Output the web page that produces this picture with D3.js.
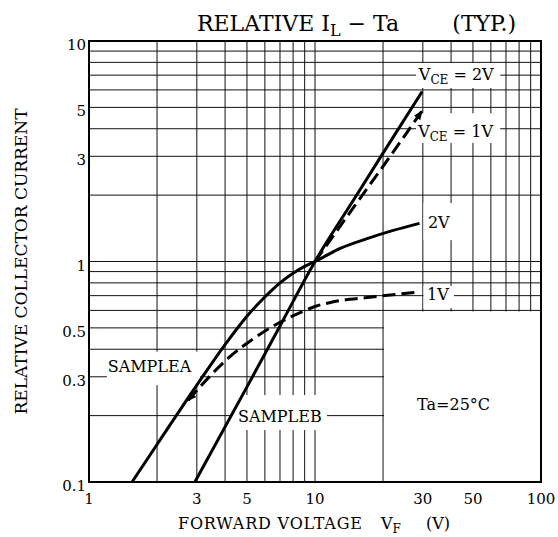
<!DOCTYPE html>
<html>
<head>
<meta charset="utf-8">
<script src="https://cdn.jsdelivr.net/npm/d3@7"></script>
<style>
  body { margin: 0; background: #fff; }
  text { font-family: "DejaVu Serif", "Liberation Serif", serif; fill: #000; }
</style>
</head>
<body>
<div id="chart"></div>
<script>
// tick labels
const xTicks = [1, 3, 5, 10, 30, 50, 100]
const yTicks = [0.1, 0.3, 0.5, 1, 3, 5, 10]

// curves [VF, relative current]
const sampleA2V = [[1.55, 0.1], [2, 0.148], [3, 0.275], [4, 0.42], [5, 0.565], [6, 0.69], [7, 0.8], [8, 0.885], [9, 0.95], [10, 1.0], [13, 1.15], [17, 1.27], [22, 1.38], [29, 1.49]]
const sampleA1V = [[2.75, 0.235], [4.2, 0.37], [5.4, 0.45], [7, 0.53], [8.4, 0.58], [10, 0.625], [11.7, 0.652], [17.5, 0.688], [29, 0.727]]
const sampleB2V = [[2.94, 0.1], [5, 0.27], [7, 0.51], [10, 1.0], [15, 1.94], [20, 3.1], [29.8, 5.9]]
const sampleB1V = [[10, 1.0], [15, 1.79], [20, 2.7], [29.6, 4.78]]

const margin = {top: 41, right: 17, bottom: 55, left: 89}
const W = 558, H = 537

let svg = d3.select('#chart')
    .append('svg')
    .attr('width', W)
    .attr('height', H)

let x = d3.scaleLog()
    .domain([1, 100])
    .range([margin.left, W - margin.right])

let y = d3.scaleLog()
    .domain([0.1, 10])
    .range([H - margin.bottom, margin.top])

// grid
svg.append('g')
    .selectAll('line')
    .data(x.ticks())
    .enter()
    .append('line')
    .attr('x1', d => x(d)).attr('x2', d => x(d))
    .attr('y1', y(10)).attr('y2', y(0.1))
    .attr('stroke', '#111')
    .attr('stroke-width', 1)

svg.append('g')
    .selectAll('line')
    .data(y.ticks())
    .enter()
    .append('line')
    .attr('x1', x(1)).attr('x2', x(100))
    .attr('y1', d => y(d)).attr('y2', d => y(d))
    .attr('stroke', '#111')
    .attr('stroke-width', 1)

// blank corner behind the Ta note
svg.append('rect')
    .attr('x', x(20) + 1)
    .attr('y', y(0.6) + 1)
    .attr('width', x(100) - x(20) - 1)
    .attr('height', y(0.1) - y(0.6) - 1)
    .attr('fill', '#fff')

// white patches behind labels (value-space corners)
const patches = [
    [[28, 7.95], [66, 6.12]],
    [[28, 4.7], [66, 3.45]],
    [[30.2, 1.84], [42.9, 1.25]],
    [[30.2, 0.775], [41.2, 0.615]],
    [[1.2, 0.39], [3.1, 0.275]],
    [[4.3, 0.248], [11.3, 0.172]],
]
svg.append('g')
    .selectAll('rect')
    .data(patches)
    .enter()
    .append('rect')
    .attr('x', d => x(d[0][0]))
    .attr('y', d => y(d[0][1]))
    .attr('width', d => x(d[1][0]) - x(d[0][0]))
    .attr('height', d => y(d[1][1]) - y(d[0][1]))
    .attr('fill', '#fff')

// frame
svg.append('rect')
    .attr('x', x(1)).attr('y', y(10))
    .attr('width', x(100) - x(1))
    .attr('height', y(0.1) - y(10))
    .attr('fill', 'none')
    .attr('stroke', '#000')
    .attr('stroke-width', 2)

// arrow heads
let defs = svg.append('defs')
defs.append('marker')
    .attr('id', 'tip')
    .attr('viewBox', '0 0 10 10')
    .attr('refX', 8).attr('refY', 5)
    .attr('markerWidth', 3.2).attr('markerHeight', 3.2)
    .attr('orient', 'auto-start-reverse')
    .append('path')
    .attr('d', 'M0,1 L10,5 L0,9 z')
    .attr('fill', '#000')

let line = d3.line()
    .x(d => x(d[0]))
    .y(d => y(d[1]))
    .curve(d3.curveMonotoneX)

const curves = [
    {data: sampleA2V, dash: null},
    {data: sampleB2V, dash: null},
    {data: sampleA1V, dash: '13,6', start: true},
    {data: sampleB1V, dash: '13,6', end: true},
]
svg.append('g')
    .selectAll('path')
    .data(curves)
    .enter()
    .append('path')
    .attr('d', d => line(d.data))
    .attr('fill', 'none')
    .attr('stroke', '#000')
    .attr('stroke-width', 3)
    .attr('stroke-dasharray', d => d.dash)
    .attr('marker-start', d => d.start ? 'url(#tip)' : null)
    .attr('marker-end', d => d.end ? 'url(#tip)' : null)

// tick labels
svg.append('g')
    .selectAll('text')
    .data(xTicks)
    .enter()
    .append('text')
    .attr('x', d => x(d))
    .attr('y', y(0.1) + 22)
    .attr('text-anchor', 'middle')
    .attr('font-size', 15)
    .text(d => d)

svg.append('g')
    .selectAll('text')
    .data(yTicks)
    .enter()
    .append('text')
    .attr('x', x(1) - 3)
    .attr('y', d => y(d) + 9)
    .attr('text-anchor', 'end')
    .attr('font-size', 15)
    .text(d => d)

// titles
let title = svg.append('text')
    .attr('x', 197).attr('y', 31)
    .attr('font-size', 22)
title.append('tspan').text('RELATIVE I')
title.append('tspan').attr('dy', 5).attr('font-size', 16).text('L')
title.append('tspan').attr('dy', -5).text('  \u2212  Ta')
svg.append('text')
    .attr('x', 516).attr('y', 31)
    .attr('text-anchor', 'end')
    .attr('font-size', 22)
    .text('(TYP.)')

svg.append('text')
    .attr('x', 178).attr('y', 529)
    .attr('font-size', 16)
    .attr('textLength', 184)
    .attr('lengthAdjust', 'spacing')
    .text('FORWARD VOLTAGE')
let vf = svg.append('text')
    .attr('x', 381).attr('y', 529)
    .attr('font-size', 16)
vf.append('tspan').text('V')
vf.append('tspan').attr('dy', 4).attr('font-size', 12).text('F')
svg.append('text')
    .attr('x', 426).attr('y', 529)
    .attr('font-size', 16)
    .text('(V)')

svg.append('text')
    .attr('transform', `translate(27,${y(1)}) rotate(-90)`)
    .attr('text-anchor', 'middle')
    .attr('font-size', 17)
    .text('RELATIVE COLLECTOR CURRENT')

// in-plot labels
const notes = [
    {at: [28.8, 6.66], main: 'V', sub: 'CE', rest: ' = 2V'},
    {at: [28.6, 3.67], main: 'V', sub: 'CE', rest: ' = 1V'},
    {at: [31.6, 1.42], main: '2V'},
    {at: [31.3, 0.669], main: '1V'},
    {at: [1.21, 0.315], main: 'SAMPLEA'},
    {at: [4.56, 0.187], main: 'SAMPLEB'},
    {at: [28.3, 0.212], main: 'Ta=25\u00B0C'},
]
notes.forEach(n =>
{
    let t = svg.append('text')
        .attr('x', x(n.at[0]))
        .attr('y', y(n.at[1]))
        .attr('font-size', 16)
    t.append('tspan').text(n.main)
    if (n.sub)
    {
        t.append('tspan').attr('dy', 4).attr('font-size', 12).text(n.sub)
        t.append('tspan').attr('dy', -4).text(n.rest)
    }
})
</script>
</body>
</html>
